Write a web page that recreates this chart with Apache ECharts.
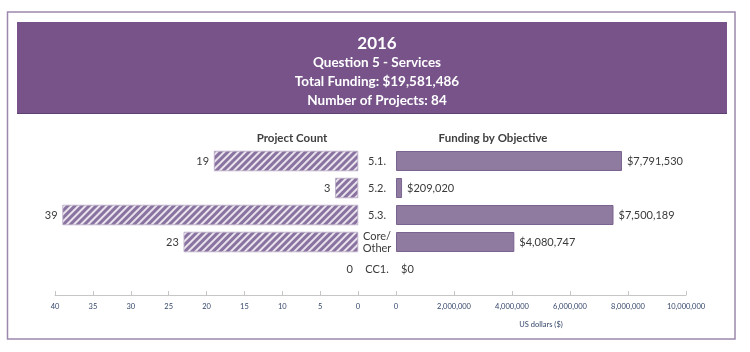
<!DOCTYPE html>
<html>
<head>
<meta charset="utf-8">
<script src="https://cdn.jsdelivr.net/npm/echarts@6/dist/echarts.min.js"></script>
<style>
  html, body { margin: 0; padding: 0; background: #fff; }
  #chart { width: 750px; height: 352px; }
</style>
</head>
<body>
<div id="chart"></div>
<script>
const categories = ['5.1.', '5.2.', '5.3.', 'Core/\nOther', 'CC1.']
const projectCount = [19, 3, 39, 23, 0]
const funding = [7791530, 209020, 7500189, 4080747, 0]
const countTicks = { min: 0, max: 40, interval: 5 }
const fundTicks = { min: 0, max: 10000000, interval: 2000000 }

const headerLines = ['2016', 'Question 5 - Services', 'Total Funding: $19,581,486', 'Number of Projects: 84']

const font = 'Lato, "Noto Sans", sans-serif'
const tickColor = '#34466a'
const axisGray = '#c6c6c6'

const chart = echarts.init(document.getElementById('chart'), null, { renderer: 'canvas' })

const fmtMoney = v => '$' + v.toLocaleString('en-US')

// zero-length bars get no outline so no stray line shows up
const withBorder = (vals, width) => vals.map(v => ({
  value: v,
  itemStyle: { borderWidth: v === 0 ? 0 : width }
}))

const headerTitles = headerLines.map((t, i) => ({
  text: t,
  left: 372,
  top: i === 0 ? 30 : 51 + (i - 1) * 19,
  textAlign: 'center',
  textStyle: {
    color: '#fff',
    fontFamily: font,
    fontWeight: 'bold',
    fontSize: i === 0 ? 17 : 13.5
  }
}))

const xAxisCommon = {
  offset: 12.5,
  axisLine: { show: true, lineStyle: { color: axisGray, width: 1 } },
  axisTick: { show: true, inside: true, length: 4, lineStyle: { color: axisGray } },
  axisLabel: { color: tickColor, fontSize: 7.5, fontFamily: font, margin: 8 },
  splitLine: { show: false }
}

chart.setOption({
  backgroundColor: '#fff',
  animation: false,
  title: [
    ...headerTitles,
    {
      text: 'Project Count', left: 287, top: 127, textAlign: 'center',
      textStyle: { color: '#3f3f3f', fontFamily: font, fontWeight: 'bold', fontSize: 11.5 }
    },
    {
      text: 'Funding by Objective', left: 488, top: 127, textAlign: 'center',
      textStyle: { color: '#3f3f3f', fontFamily: font, fontWeight: 'bold', fontSize: 11.5 }
    }
  ],
  graphic: [
    {
      type: 'rect', z: -10, silent: true,
      shape: { x: 7.5, y: 12, width: 727.5, height: 327 },
      style: { fill: 'none', stroke: '#9c88ad', lineWidth: 1.5 }
    },
    {
      type: 'rect', z: -5, silent: true,
      shape: { x: 17, y: 22, width: 710, height: 92 },
      style: { fill: '#77538a' }
    },
    {
      type: 'line', z: -4, silent: true,
      shape: { x1: 17, y1: 113.5, x2: 727, y2: 113.5 },
      style: { stroke: '#5f4170', lineWidth: 1 }
    },
    {
      type: 'line', silent: true,
      shape: { x1: 358, y1: 295.5, x2: 396, y2: 295.5 },
      style: { stroke: axisGray, lineWidth: 1 }
    }
  ],
  grid: [
    { left: 55, width: 303, top: 147.5, height: 135 },
    { left: 396, width: 290, top: 147.5, height: 135 }
  ],
  xAxis: [
    Object.assign({}, xAxisCommon, {
      gridIndex: 0, type: 'value', inverse: true,
      min: countTicks.min, max: countTicks.max, interval: countTicks.interval
    }),
    Object.assign({}, xAxisCommon, {
      gridIndex: 1, type: 'value',
      min: fundTicks.min, max: fundTicks.max, interval: fundTicks.interval,
      axisLabel: Object.assign({}, xAxisCommon.axisLabel, {
        formatter: v => v.toLocaleString('en-US')
      }),
      name: 'US dollars ($)',
      nameLocation: 'middle',
      nameGap: 26,
      nameTextStyle: { color: tickColor, fontSize: 7.5, fontFamily: font }
    })
  ],
  yAxis: [
    {
      gridIndex: 0, type: 'category', data: categories, inverse: true,
      axisLine: { show: false }, axisTick: { show: false }, axisLabel: { show: false }
    },
    {
      gridIndex: 1, type: 'category', data: categories, inverse: true,
      axisLine: { show: false }, axisTick: { show: false },
      axisLabel: {
        align: 'center', margin: 19, color: '#3a3a3a',
        fontSize: 11, fontFamily: font, lineHeight: 12
      }
    }
  ],
  series: [
    {
      type: 'bar', xAxisIndex: 0, yAxisIndex: 0, data: withBorder(projectCount, 0.5),
      barWidth: 20,
      itemStyle: {
        color: '#8a73a0',
        borderColor: '#b7a8c4',
        decal: {
          symbol: 'rect',
          symbolSize: 1,
          color: 'rgba(255,255,255,0.8)',
          dashArrayX: [1, 0],
          dashArrayY: [1.1, 2.7],
          rotation: -Math.PI / 4
        }
      },
      label: {
        show: true, position: 'left', distance: 5,
        color: '#3a3a3a', fontSize: 11, fontFamily: font
      }
    },
    {
      type: 'bar', xAxisIndex: 1, yAxisIndex: 1, data: withBorder(funding, 1),
      barWidth: 20,
      itemStyle: { color: '#8f7ba0', borderColor: '#7a6390' },
      label: {
        show: true, position: 'right', distance: 5,
        color: '#3a3a3a', fontSize: 11, fontFamily: font,
        formatter: p => fmtMoney(p.value)
      }
    }
  ]
})
</script>
</body>
</html>
